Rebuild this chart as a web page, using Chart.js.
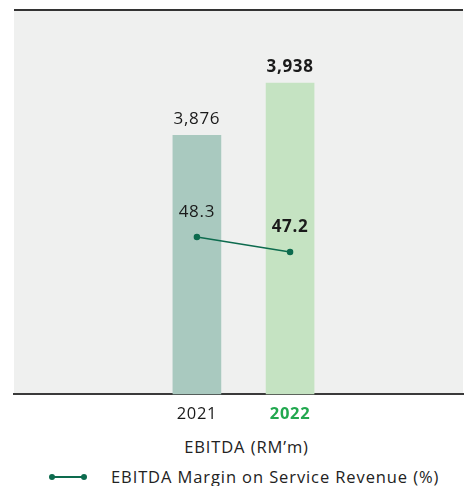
<!DOCTYPE html>
<html>
<head>
<meta charset="utf-8">
<script src="https://cdn.jsdelivr.net/npm/chart.js@4.4.0/dist/chart.umd.min.js"></script>
<style>
  html, body { margin: 0; padding: 0; background: #fff; }
  body { width: 467px; height: 486px; overflow: hidden; font-family: "Open Sans", sans-serif; color: #222; }
  #wrap { position: relative; width: 467px; height: 434px; }
  .legend { position: absolute; left: 0; width: 467px; font-size: 16.5px; letter-spacing: 0.9px; color: #222; line-height: 22px; }
  #lg1 { top: 436px; text-align: center; padding-left: 26px; box-sizing: border-box; }
  #lg2 { top: 466px; }
  #lg2 .mark { position: absolute; left: 52px; top: 10px; width: 32px; height: 2px; background: #0d6b4e; }
  #lg2 .mark::before, #lg2 .mark::after { content: ""; position: absolute; top: -2px; width: 6px; height: 6px; border-radius: 50%; background: #0d6b4e; }
  #lg2 .mark::before { left: -3px; }
  #lg2 .mark::after { right: -3px; }
  #lg2 .txt { position: absolute; left: 111px; top: 0; white-space: nowrap; }
</style>
</head>
<body>
<div id="wrap"><canvas id="chart" width="467" height="434"></canvas></div>
<div class="legend" id="lg1">EBITDA (RM’m)</div>
<div class="legend" id="lg2"><span class="mark"></span><span class="txt">EBITDA Margin on Service Revenue (%)</span></div>
<script>
// data
const years = [2021, 2022];
const ebitda = [3876, 3938];
const margin = [48.3, 47.2];
const ebitdaLabels = ["3,876", "3,938"];
const marginLabels = ["48.3", "47.2"];

const barColors = ["#a9c9bf", "#c5e3c2"];
const lineColor = "#0d6b4e";
const FONT = '"Open Sans", sans-serif';

// grey panel + top rule
const panelPlugin = {
  id: "panel",
  beforeDraw(chart) {
    const { ctx, chartArea: a } = chart;
    ctx.letterSpacing = "0.7px";
    ctx.save();
    ctx.fillStyle = "#eff0ef";
    ctx.fillRect(a.left, a.top, a.right - a.left, a.bottom - a.top);
    ctx.fillStyle = "#333";
    ctx.fillRect(a.left, a.top - 1, a.right - a.left, 2);
    ctx.restore();
  }
};

// value labels
const labelPlugin = {
  id: "valueLabels",
  afterDatasetsDraw(chart) {
    const ctx = chart.ctx;
    ctx.save();
    ctx.textAlign = "center";
    ctx.textBaseline = "middle";
    const bars = chart.getDatasetMeta(0).data;
    bars.forEach((b, i) => {
      ctx.font = (i === 1 ? "bold " : "") + "17px " + FONT;
      ctx.fillStyle = "#1a1a1a";
      ctx.fillText(ebitdaLabels[i], b.x, b.y - 16);
    });
    const pts = chart.getDatasetMeta(1).data;
    pts.forEach((p, i) => {
      ctx.font = (i === 1 ? "bold " : "") + "17px " + FONT;
      ctx.fillStyle = "#1a1a1a";
      ctx.fillText(marginLabels[i], bars[i].x, p.y - 25);
    });
    ctx.restore();
  }
};

new Chart(document.getElementById("chart"), {
  type: "bar",
  data: {
    datasets: [
      {
        type: "bar",
        data: years.map((y, i) => ({ x: y, y: ebitda[i] })),
        backgroundColor: barColors,
        barThickness: 48,
        yAxisID: "y",
        order: 2
      },
      {
        type: "line",
        data: years.map((y, i) => ({ x: y, y: margin[i] })),
        borderColor: lineColor,
        backgroundColor: lineColor,
        borderWidth: 1.5,
        pointRadius: 2.5,
        pointHoverRadius: 2.5,
        yAxisID: "y1",
        order: 1
      }
    ]
  },
  options: {
    responsive: false,
    animation: false,
    layout: { padding: { left: 14, top: 10, right: 0, bottom: 0 } },
    plugins: { legend: { display: false }, tooltip: { enabled: false } },
    scales: {
      x: {
        type: "linear",
        offset: false,
        min: 2019.037,
        max: 2023.856,
        afterBuildTicks: axis => { axis.ticks = years.map(v => ({ value: v })); },
        grid: { display: false, drawTicks: false, offset: false },
        border: { display: true, color: "#3a3a3a", width: 2 },
        ticks: {
          padding: 10,
          callback: v => String(v),
          color: c => (c.tick && c.tick.value === 2022 ? "#22a84f" : "#1a1a1a"),
          font: c => ({ family: FONT, size: 16.5, weight: c.tick && c.tick.value === 2022 ? "bold" : "normal" })
        }
      },
      y: { display: false, min: 3568, max: 4025 },
      y1: { display: false, min: 36.8, max: 64.9 }
    }
  },
  plugins: [panelPlugin, labelPlugin]
});
</script>
</body>
</html>
